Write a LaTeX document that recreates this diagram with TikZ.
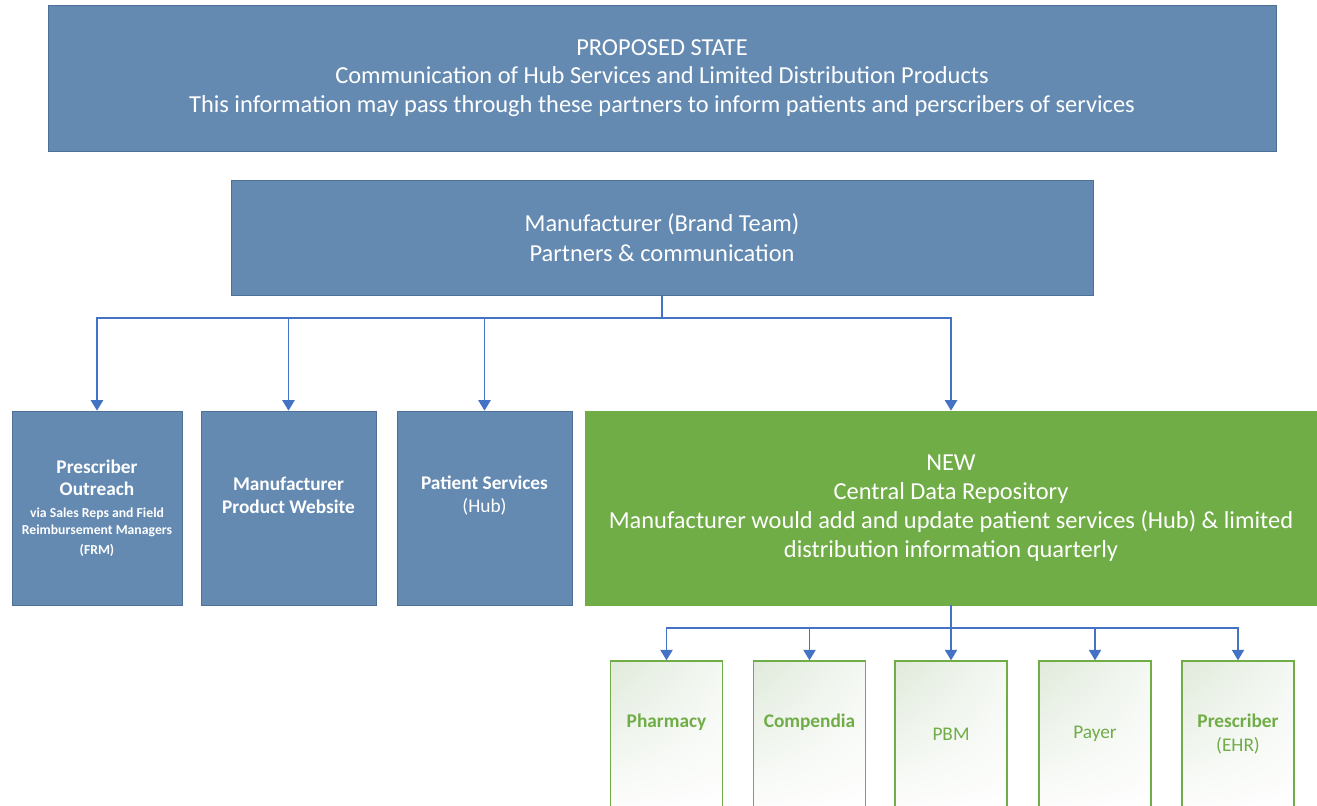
\documentclass[tikz,border=0pt]{standalone}
\usepackage{fontspec}
\setmainfont{Carlito}
\usetikzlibrary{arrows.meta,shadings}
\definecolor{slate}{RGB}{100,138,178}
\definecolor{slateline}{RGB}{78,112,150}
\definecolor{leaf}{RGB}{112,173,71}
\definecolor{mist}{RGB}{224,234,219}
\definecolor{linkblue}{RGB}{68,114,196}
\tikzstyle{bluebox}=[draw=slateline,fill=slate,text=white,align=center,inner sep=0pt]
\tikzstyle{greenbox}=[draw=leaf,fill=leaf,text=white,align=center,inner sep=0pt]
\tikzstyle{outbox}=[draw=leaf,line width=0.8pt,upper left=mist,upper right=mist!35!white,lower left=white,lower right=white,minimum width=2.24cm,minimum height=3.2cm]
\tikzstyle{lbl}=[text=white,align=center,font=\fontsize{11}{13}\selectfont]
\tikzstyle{outtext}=[text=leaf,align=center,font=\fontsize{11}{13.5}\selectfont]
\tikzstyle{wire}=[draw=linkblue,line width=0.9pt]
\tikzstyle{feed}=[wire,-{Triangle[width=7pt,length=6pt]}]

\begin{document}
\begin{tikzpicture}[x=0.02cm,y=-0.02cm]
\useasboundingbox (0,0) rectangle (1317,805);
\clip (0,0) rectangle (1317,805);

\node[bluebox, minimum width=24.56cm, minimum height=2.92cm, font=\fontsize{13.9}{16.4}\selectfont] (state) at (662,78)
  {PROPOSED STATE\\Communication of Hub Services and Limited Distribution Products\\This information may pass through these partners to inform patients and perscribers of services};
\node[bluebox, minimum width=17.24cm, minimum height=2.3cm, font=\fontsize{13.9}{17}\selectfont] (mfr) at (662,237.5)
  {Manufacturer (Brand Team)\\Partners \& communication};

\node[bluebox, minimum width=3.4cm, minimum height=3.88cm, font=\fontsize{7.8}{9.6}\selectfont\bfseries] (outreach) at (97,508)
  {{\fontsize{11}{13}\selectfont Prescriber}\\[3pt]{\fontsize{11}{13}\selectfont Outreach}\\[2.9pt]
   via Sales Reps and Field\\Reimbursement Managers\\[1.7pt](FRM)};
\node[bluebox, minimum width=3.5cm, minimum height=3.88cm] (website) at (288.5,508) {};
\node[bluebox, minimum width=3.5cm, minimum height=3.88cm] (hub) at (484.5,508) {};
\node[lbl, font=\fontsize{11}{13}\selectfont\bfseries] (website-t) at (288.5,495.5) {Manufacturer\\Product Website};
\node[lbl] (hub-t) at (484.5,495.5) {\textbf{Patient Services}\\(Hub)};

\node[greenbox, minimum width=14.64cm, minimum height=3.88cm, font=\fontsize{13.9}{16.4}\selectfont] (repo) at (951,508)
  {NEW\\Central Data Repository\\Manufacturer would add and update patient services (Hub) \& limited\\distribution information quarterly};

\coordinate (fork) at (662,318);
\draw[wire] (mfr.south) -- (fork);
\foreach \n in {outreach,website,hub,repo}
  \draw[feed] (fork) -| (\n.north);

\foreach \n/\cx/\ty/\txt in {pharm/666.5/722/{\textbf{Pharmacy}},
    comp/809.5/722/{\textbf{Compendia}},
    pbm/951/734/PBM,
    payer/1095/734/Payer,
    presc/1238/734/{\textbf{Prescriber}\\(EHR)}}{
  \node[outbox] (\n) at (\cx,741) {};
  \node[outtext] (\n-t) at (\cx,\ty) {\txt};
}

\coordinate (fork2) at (951,628);
\draw[wire] (repo.south) -- (fork2);
\foreach \n in {pharm,comp,pbm,payer,presc}
  \draw[feed] (fork2) -| (\n.north);

\end{tikzpicture}
\end{document}
